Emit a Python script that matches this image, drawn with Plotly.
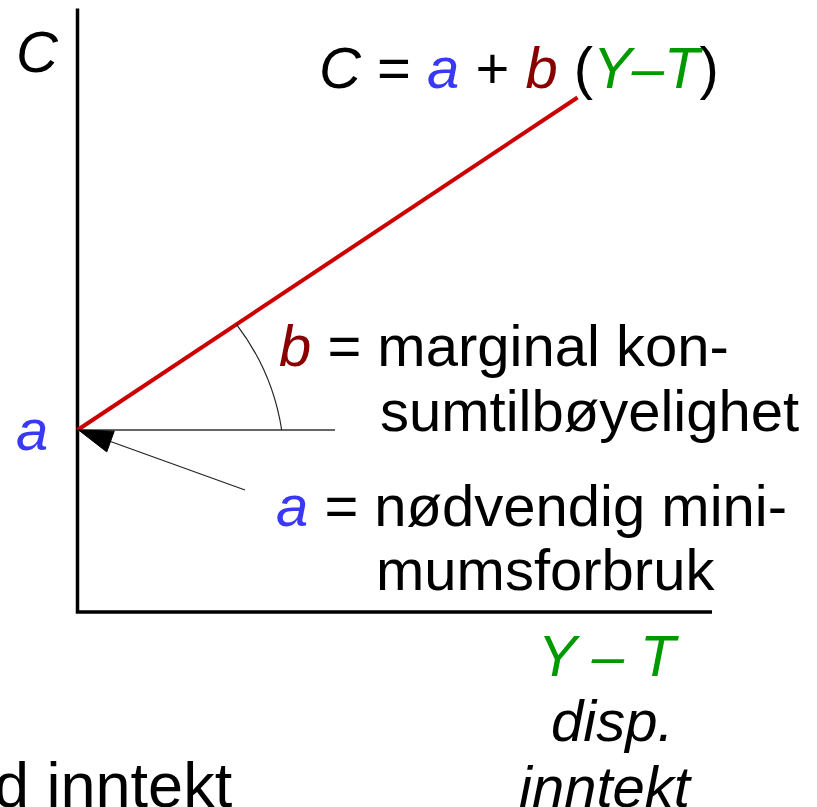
import plotly.graph_objects as go

# consumption function C = a + b (Y-T), in diagram units
yt = [0, 10]
cons = [3.64, 10.29]
a = cons[0]
b = (cons[1] - cons[0]) / (yt[1] - yt[0])

axis_x_end = 12.69
axis_y_end = 12.07

blue = '#3838f5'
darkred = '#880000'
green = '#009a00'
red = '#cc0000'
FONT = 'Liberation Sans'
FS = 58

fig = go.Figure()

# axes
fig.add_trace(go.Scatter(x=[axis_x_end, 0, 0], y=[0, 0, axis_y_end], mode='lines',
                         line=dict(color='black', width=3.5), hoverinfo='skip'))

# consumption line
fig.add_trace(go.Scatter(x=yt, y=cons, mode='lines', line=dict(color=red, width=4), hoverinfo='skip'))

# thin horizontal reference line at a
fig.add_trace(go.Scatter(x=[0, 5.15], y=[a, a], mode='lines',
                         line=dict(color='#333333', width=1.3), hoverinfo='skip'))

# angle arc (quadratic bezier)
arc_x0 = 3.18
arc_path = 'M %f,%f Q %f,%f %f,%f' % (arc_x0, a + b * arc_x0, 3.904, 4.804, 4.084, a)
fig.add_shape(type='path', path=arc_path, xref='x', yref='y',
              line=dict(color='#222222', width=1.2))

# arrow pointing at intercept a
tip = (0.02, a)
tail = (3.35, 2.44)
dx, dy = tail[0] - tip[0], tail[1] - tip[1]
n = (dx * dx + dy * dy) ** 0.5
ux, uy = dx / n, dy / n
px, py = -uy, ux
head_len, half_w = 0.68, 0.22
bx, by = tip[0] + head_len * ux, tip[1] + head_len * uy
fig.add_trace(go.Scatter(x=[bx, tail[0]], y=[by, tail[1]], mode='lines',
                         line=dict(color='#222222', width=1.2), hoverinfo='skip'))
fig.add_trace(go.Scatter(x=[tip[0], bx + half_w * px, bx - half_w * px, tip[0]],
                         y=[tip[1], by + half_w * py, by - half_w * py, tip[1]],
                         mode='lines', fill='toself', fillcolor='black',
                         line=dict(color='black', width=1), hoverinfo='skip'))


def col(t, c):
    return "<span style='color:%s'>%s</span>" % (c, t)


labels = [
    (-1.27, 11.21, '<i>C</i>', 'left', FS),
    (4.78, 10.9, '<i>C</i> = <i>%s</i> + <i>%s</i> (<i>%s</i>)' % (col('a', blue), col('b', darkred), col('Y–T', green)), 'left', FS),
    (-1.27, 3.65, '<i>%s</i>' % col('a', blue), 'left', FS),
    (3.99, 5.34, '<i>%s</i> = marginal kon-' % col('b', darkred), 'left', FS),
    (6.0, 4.03, 'sumtilbøyelighet', 'left', FS),
    (3.93, 2.13, '<i>%s</i> = nødvendig mini-' % col('a', blue), 'left', FS),
    (5.93, 0.85, 'mumsforbruk', 'left', FS),
    (10.61, -0.87, '<i>%s</i>' % col('Y – T', green), 'center', FS),
    (10.69, -2.17, '<i>disp.</i>', 'center', FS),
    (10.57, -3.49, '<i>inntekt</i>', 'center', FS),
    (3.14, -3.45, 'd inntekt', 'right', 63),
]
for x, y, t, anc, size in labels:
    fig.add_annotation(x=x, y=y, text=t, showarrow=False, xanchor=anc, yanchor='middle',
                       font=dict(family=FONT, size=size, color='black'))

fig.update_layout(width=817, height=807, margin=dict(l=0, r=0, t=0, b=0),
                  plot_bgcolor='white', paper_bgcolor='white', showlegend=False,
                  xaxis=dict(range=[-1.55, 14.79], visible=False, fixedrange=True),
                  yaxis=dict(range=[-3.9, 12.24], visible=False, fixedrange=True))

fig.write_html('out.html', config={'displayModeBar': False},
               post_script="document.body.style.margin='0';document.body.style.overflow='hidden';")
